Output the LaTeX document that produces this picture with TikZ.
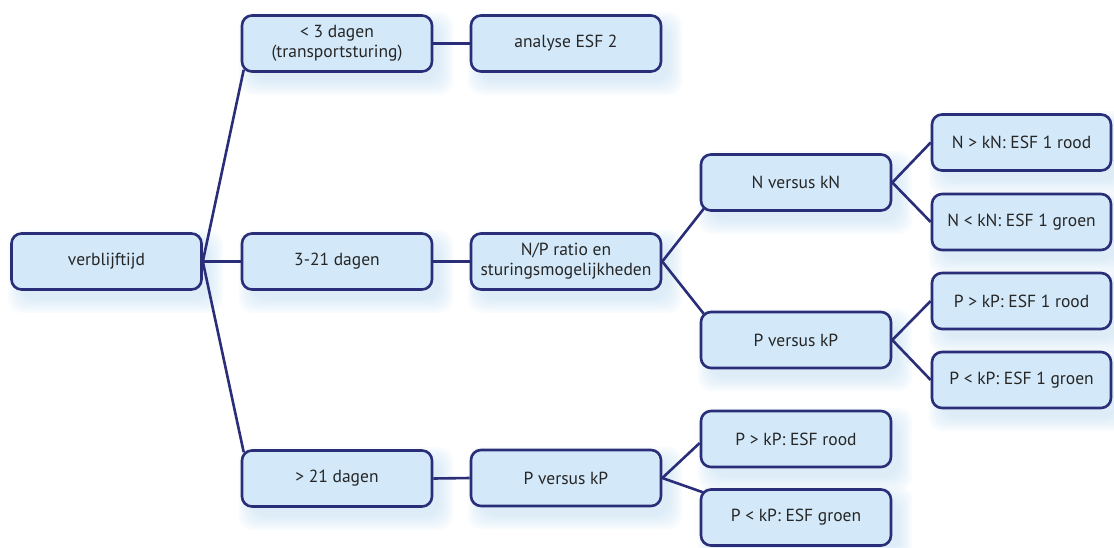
\documentclass[tikz,border=0pt]{standalone}
\usepackage{fontspec}
\setmainfont{PT Sans}
\usetikzlibrary{calc,backgrounds}
\definecolor{navy}{HTML}{2A2D78}
\definecolor{boxfill}{HTML}{D3E9F9}
\definecolor{glow}{HTML}{C4E1F6}
\definecolor{txt}{HTML}{262626}
\tikzset{
  box/.style={draw=navy, line width=2.6pt, fill=boxfill, rounded corners=10pt,
    minimum width=190pt, minimum height=56pt, inner sep=0pt, align=center,
    text=txt, font=\fontsize{17.5}{20}\selectfont},
  narrowbox/.style={box, minimum width=179pt},
  conn/.style={draw=navy, line width=2.6pt},
}
\begin{document}
\begin{tikzpicture}[x=1pt,y=-1pt]
\useasboundingbox (0,0) rectangle (1114,547);
% nodes
\node[box] (v)   at (106.5,261.5) {verblijftijd};
\node[box] (t3)  at (337,43.5) {< 3 dagen\\(transportsturing)};
\node[box] (a2)  at (566,43.5) {analyse ESF 2};
\node[box] (t21) at (337,261.5) {3-21 dagen};
\node[box] (np)  at (566,261.5) {N/P ratio en\\sturingsmogelijkheden};
\node[box] (nk)  at (796,182.5) {N versus kN};
\node[box] (pk)  at (796,340) {P versus kP};
\node[narrowbox] (r1) at (1021.5,142.5) {N > kN: ESF 1 rood};
\node[narrowbox] (r2) at (1021.5,222) {N < kN: ESF 1 groen};
\node[narrowbox] (r3) at (1021.5,301) {P > kP: ESF 1 rood};
\node[narrowbox] (r4) at (1021.5,380) {P < kP: ESF 1 groen};
\node[box] (g21) at (337,478.5) {> 21 dagen};
\node[box] (pk2) at (566,478) {P versus kP};
\node[box] (b1)  at (796,439) {P > kP: ESF rood};
\node[box] (b2)  at (796,517.5) {P < kP: ESF groen};
% glow shadows and connectors behind the boxes
\begin{scope}[on background layer]
  \fill[white] (0,0) rectangle (1114,547);
  \foreach \n in {v,t3,a2,t21,np,nk,pk,r1,r2,r3,r4,g21,pk2,b1,b2}{
    \foreach \i in {0,2,4,6,8,10,12,14}{
      \fill[glow, opacity=0.09, rounded corners=14pt]
        ($(\n.north west)+(12-\i,12-\i)$) rectangle ($(\n.south east)+(6+\i,8+\i)$);
    }
  }
  \draw[conn] (v.east) -- ($(t3.south west)+(3,-3)$);
  \draw[conn] (v.east) -- (t21.west);
  \draw[conn] (v.east) -- ($(g21.north west)+(3,3)$);
  \draw[conn] (t3.east) -- (a2.west);
  \draw[conn] (t21.east) -- (np.west);
  \draw[conn] (np.east) -- ($(nk.south west)+(4,-3)$);
  \draw[conn] (np.east) -- ($(pk.north west)+(4,3)$);
  \draw[conn] (nk.east) -- (r1.west);
  \draw[conn] (nk.east) -- (r2.west);
  \draw[conn] (pk.east) -- (r3.west);
  \draw[conn] (pk.east) -- (r4.west);
  \draw[conn] (g21.east) -- (pk2.west);
  \draw[conn] (pk2.east) -- ($(b1.west)+(0,4)$);
  \draw[conn] (pk2.east) -- ($(b2.north west)+(3,4)$);
\end{scope}
\end{tikzpicture}
\end{document}
